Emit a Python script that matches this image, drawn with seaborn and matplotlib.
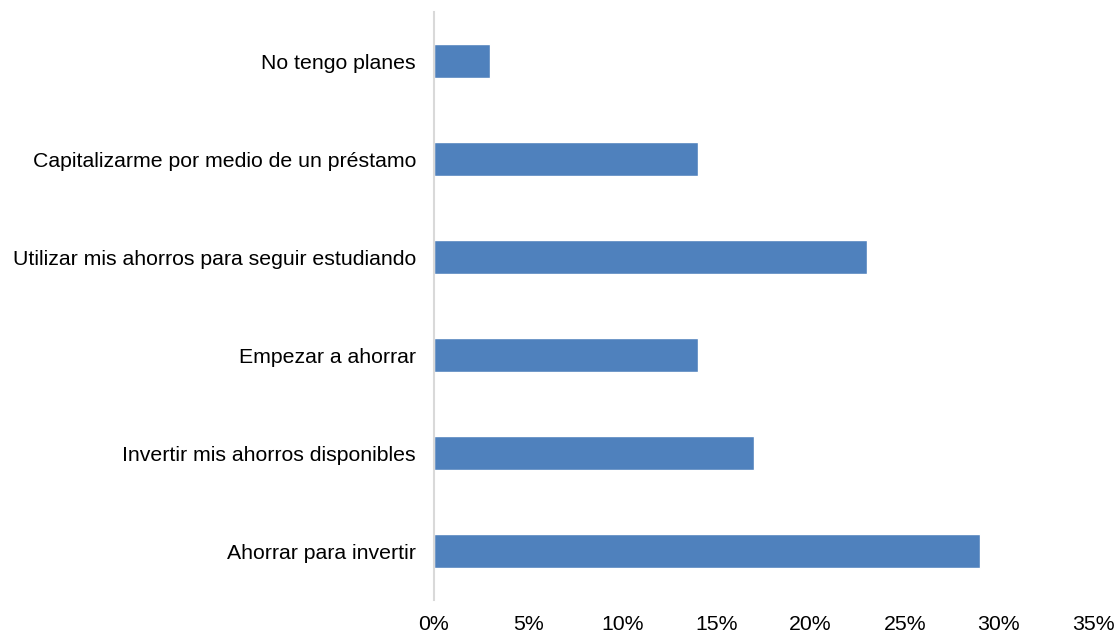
import matplotlib
matplotlib.use("Agg")
import matplotlib.pyplot as plt
import seaborn as sns
import pandas as pd
from matplotlib.ticker import FuncFormatter

# categories top to bottom, values in percent
categories = [
    "No tengo planes",
    "Capitalizarme por medio de un préstamo",
    "Utilizar mis ahorros para seguir estudiando",
    "Empezar a ahorrar",
    "Invertir mis ahorros disponibles",
    "Ahorrar para invertir",
]
values = [3, 14, 23, 14, 17, 29]
x_ticks = [0, 5, 10, 15, 20, 25, 30, 35]

df = pd.DataFrame({"cat": categories, "val": values})

sns.set_style("white")
plt.rcParams["font.family"] = ["Liberation Sans", "DejaVu Sans"]

fig = plt.figure(figsize=(11.19, 6.36), dpi=100)
ax = fig.add_axes([0.3878, 0.0566, 0.589, 0.9245])

sns.barplot(data=df, x="val", y="cat", color="#4F81BD", saturation=1,
            width=0.35, orient="h", ax=ax)

ax.set_xlim(0, 35)
ax.set_xticks(x_ticks)
ax.xaxis.set_major_formatter(FuncFormatter(lambda v, p: f"{int(v)}%"))
ax.set_xlabel("")
ax.set_ylabel("")

for s in ["top", "right", "bottom"]:
    ax.spines[s].set_visible(False)
ax.spines["left"].set_color("#D9D9D9")
ax.spines["left"].set_linewidth(1.5)

ax.tick_params(axis="both", length=0, labelsize=15.3, labelcolor="black")
ax.tick_params(axis="y", pad=13)
ax.tick_params(axis="x", pad=11)

plt.savefig("out.png", dpi=100)
